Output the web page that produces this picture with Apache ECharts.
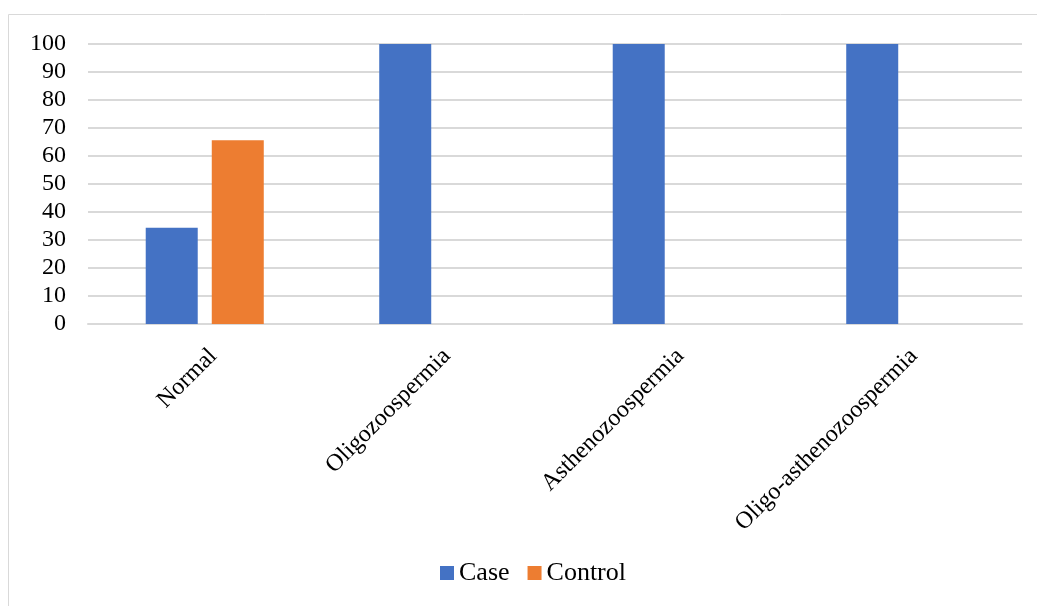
<!DOCTYPE html>
<html>
<head>
<meta charset="utf-8">
<script src="https://cdn.jsdelivr.net/npm/echarts@6/dist/echarts.min.js"></script>
<style>
  html, body { margin: 0; padding: 0; background: #fff; }
  #chart { width: 1037px; height: 606px; }
</style>
</head>
<body>
<div id="chart"></div>
<script>
// values (percent)
const categories = ['Normal', 'Oligozoospermia', 'Asthenozoospermia', 'Oligo-asthenozoospermia'];
const caseValues = [34.4, 100, 100, 100];
const controlValues = [65.6, 0, 0, 0];
const yTicks = { min: 0, max: 100, interval: 10 };

const font = 'Liberation Serif, Times New Roman, serif';
const gridColor = '#d9d9d9';

const chart = echarts.init(document.getElementById('chart'), null, { renderer: 'canvas' });

chart.setOption({
  animation: false,
  textStyle: { fontFamily: font },
  graphic: [{
    type: 'rect',
    shape: { x: 8.5, y: 14.5, width: 1040, height: 600 },
    style: { fill: 'none', stroke: gridColor, lineWidth: 1 },
    silent: true
  }],
  grid: { left: 88, right: 15, top: 44, bottom: 282 },
  legend: {
    left: 435,
    top: 555,
    itemWidth: 14,
    itemHeight: 14,
    itemGap: 18,
    icon: 'rect',
    textStyle: { fontFamily: font, fontSize: 26, color: '#000', padding: [0, 0, 0, 0] },
    data: ['Case', 'Control']
  },
  xAxis: {
    type: 'category',
    data: categories,
    axisLine: { show: true, lineStyle: { color: gridColor, width: 2 } },
    axisTick: { show: false },
    axisLabel: {
      rotate: 45,
      interval: 0,
      margin: 20,
      verticalAlign: 'top',
      fontFamily: font,
      fontSize: 24,
      color: '#000'
    }
  },
  yAxis: {
    type: 'value',
    min: yTicks.min,
    max: yTicks.max,
    interval: yTicks.interval,
    axisLine: { show: false },
    axisTick: { show: false },
    splitLine: { lineStyle: { color: gridColor, width: 2 } },
    axisLabel: {
      margin: 22,
      fontFamily: font,
      fontSize: 24,
      color: '#000'
    }
  },
  series: [
    {
      name: 'Case',
      type: 'bar',
      data: caseValues,
      barWidth: 52,
      barGap: '27%',
      itemStyle: { color: '#4472C4' }
    },
    {
      name: 'Control',
      type: 'bar',
      data: controlValues,
      barWidth: 52,
      itemStyle: { color: '#ED7D31' }
    }
  ]
});

window.addEventListener('resize', () => chart.resize());
</script>
</body>
</html>
